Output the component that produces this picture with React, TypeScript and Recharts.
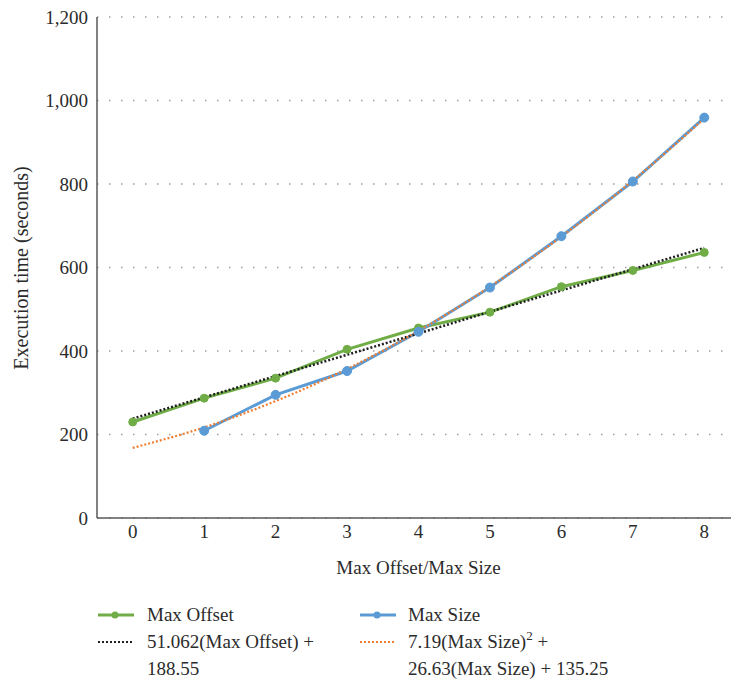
import { LineChart, Line, XAxis, YAxis, CartesianGrid } from 'recharts';

const categories = [0, 1, 2, 3, 4, 5, 6, 7, 8];
const maxOffset = [230, 287, 335, 404, 455, 493, 554, 593, 636];
const maxSize = [null, 209, 295, 352, 446, 552, 675, 806, 959];
const offsetTrend = [238, 289, 340, 391, 442, 494, 545, 596, 647];
const sizeTrend = [168, 217, 280, 357, 448, 554, 674, 808, 957];
const yTicks = [0, 200, 400, 600, 800, 1000, 1200];

const GREEN = '#70ad47';
const BLUE = '#5b9bd5';
const ORANGE = '#ed7d31';
const DARK = '#1f1f1f';
const TEXT = '#2b2b2b';
const FONT = '"Liberation Serif", "DejaVu Serif", serif';

const data = categories.map((x, i) => ({
  x,
  maxOffset: maxOffset[i],
  maxSize: maxSize[i],
  offsetTrend: offsetTrend[i],
  sizeTrend: sizeTrend[i],
}));

const YTitle = () => (
  <text
    x={21}
    y={268}
    transform="rotate(-90, 21, 268)"
    textAnchor="middle"
    dominantBaseline="central"
    fill={TEXT}
    fontSize={20}
    fontFamily={FONT}
  >
    Execution time (seconds)
  </text>
);

function Sample({ color, dashed, dot }: { color: string; dashed?: boolean; dot?: boolean }) {
  return (
    <svg width={36} height={10} style={{ position: 'absolute', left: 0, top: 9 }}>
      <line
        x1={0}
        x2={36}
        y1={5}
        y2={5}
        stroke={color}
        strokeWidth={dashed ? 2 : 2.8}
        strokeDasharray={dashed ? '2 2' : undefined}
      />
      {dot && <circle cx={17} cy={5} r={3.5} fill={color} />}
    </svg>
  );
}

const rowStyle = { position: 'absolute' as const, height: 27, lineHeight: '27px' };

export default function App() {
  return (
    <div
      style={{
        position: 'absolute',
        left: 0,
        top: 0,
        width: 731,
        height: 684,
        overflow: 'hidden',
        background: '#fff',
        fontFamily: FONT,
      }}
    >
      <LineChart
        width={745}
        height={684}
        data={data}
        margin={{ top: 17, right: 5, left: 0, bottom: 106 }}
      >
        <CartesianGrid
          vertical={false}
          stroke="#9e9e9e"
          strokeWidth={1.5}
          strokeDasharray="1.5 10.5"
        />
        <XAxis
          dataKey="x"
          type="number"
          domain={[-0.5, 8.5]}
          ticks={categories}
          height={60}
          tickLine={false}
          tickSize={0}
          tickMargin={7}
          axisLine={{ stroke: '#595959', strokeWidth: 1.5 }}
          tick={{ fill: TEXT, fontSize: 19, fontFamily: FONT }}
          label={{
            value: 'Max Offset/Max Size',
            position: 'insideBottom',
            offset: 4,
            fill: TEXT,
            fontSize: 19,
            fontFamily: FONT,
          }}
        />
        <YAxis
          type="number"
          domain={[0, 1200]}
          ticks={yTicks}
          width={97}
          tickLine={false}
          tickSize={0}
          tickMargin={9}
          axisLine={{ stroke: '#595959', strokeWidth: 1.5 }}
          tick={{ fill: TEXT, fontSize: 19, fontFamily: FONT }}
          tickFormatter={(v: number) => v.toLocaleString('en-US')}
          label={{ content: YTitle }}
        />
        <Line
          dataKey="maxOffset"
          stroke={GREEN}
          strokeWidth={3}
          dot={{ r: 4, fill: GREEN, stroke: GREEN, strokeWidth: 1 }}
          isAnimationActive={false}
        />
        <Line
          dataKey="maxSize"
          stroke={BLUE}
          strokeWidth={3}
          dot={{ r: 4.5, fill: BLUE, stroke: BLUE, strokeWidth: 1 }}
          isAnimationActive={false}
        />
        <Line
          dataKey="offsetTrend"
          stroke={DARK}
          strokeWidth={2.5}
          strokeDasharray="2 2"
          dot={false}
          isAnimationActive={false}
        />
        <Line
          type="monotone"
          dataKey="sizeTrend"
          stroke={ORANGE}
          strokeWidth={2.2}
          strokeDasharray="2 2"
          dot={false}
          isAnimationActive={false}
        />
      </LineChart>

      <div style={{ position: 'absolute', left: 98, top: 601, fontSize: 19, color: TEXT }}>
        <div style={{ ...rowStyle, left: 0, top: 0, width: 250 }}>
          <Sample color={GREEN} dot />
          <span style={{ position: 'absolute', left: 49 }}>Max Offset</span>
        </div>
        <div style={{ ...rowStyle, left: 0, top: 27, width: 250 }}>
          <Sample color={DARK} dashed />
          <span style={{ position: 'absolute', left: 49, whiteSpace: 'nowrap' }}>51.062(Max Offset) +</span>
        </div>
        <div style={{ ...rowStyle, left: 49, top: 54, width: 200 }}>188.55</div>

        <div style={{ ...rowStyle, left: 262, top: 0, width: 250 }}>
          <Sample color={BLUE} dot />
          <span style={{ position: 'absolute', left: 48 }}>Max Size</span>
        </div>
        <div style={{ ...rowStyle, left: 262, top: 27, width: 300 }}>
          <Sample color={ORANGE} dashed />
          <span style={{ position: 'absolute', left: 48, whiteSpace: 'nowrap' }}>
            7.19(Max Size)<sup style={{ fontSize: 13, verticalAlign: 'top', lineHeight: '16px' }}>2</sup> +
          </span>
        </div>
        <div style={{ ...rowStyle, left: 310, top: 54, width: 300, whiteSpace: 'nowrap' }}>
          26.63(Max Size) + 135.25
        </div>
      </div>
    </div>
  );
}
